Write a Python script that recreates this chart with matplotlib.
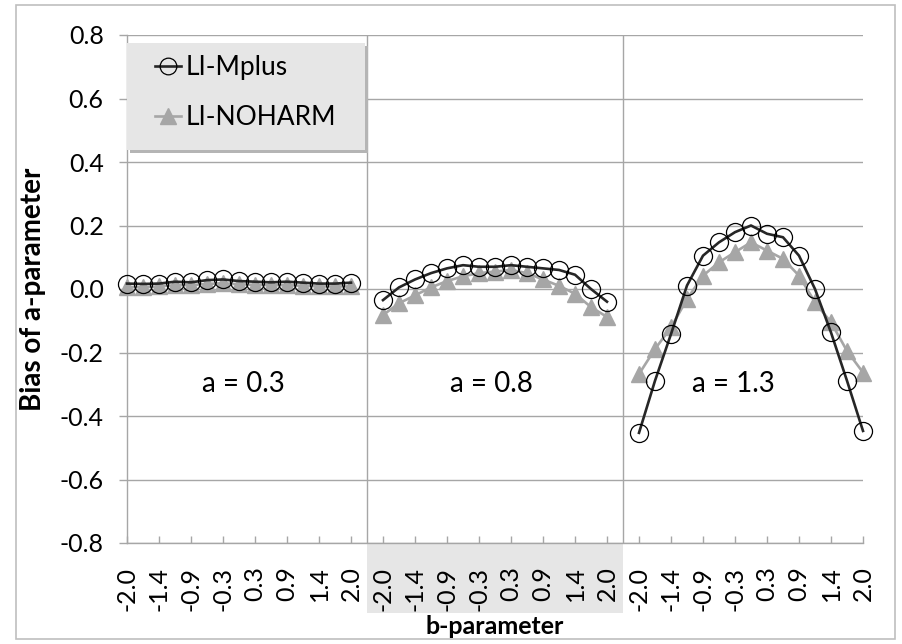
import numpy as np
import matplotlib
matplotlib.use("Agg")
import matplotlib.pyplot as plt
from matplotlib.patches import Rectangle
from matplotlib.lines import Line2D

plt.rcParams['font.family'] = ['Lato', 'DejaVu Sans']

# ---- data ----
b_tick_labels = ["-2.0", "-1.4", "-0.9", "-0.3", "0.3", "0.9", "1.4", "2.0"]
panel_labels = ["a = 0.3", "a = 0.8", "a = 1.3"]

mplus_a03 = [0.017, 0.016, 0.017, 0.023, 0.021, 0.028, 0.030, 0.025, 0.023, 0.021, 0.023, 0.020, 0.017, 0.017, 0.020]
noharm_a03 = [0.006, 0.006, 0.008, 0.012, 0.012, 0.016, 0.018, 0.015, 0.013, 0.012, 0.012, 0.010, 0.008, 0.008, 0.008]

mplus_a08 = [-0.035, 0.005, 0.030, 0.050, 0.065, 0.075, 0.070, 0.070, 0.075, 0.070, 0.065, 0.060, 0.045, 0.000, -0.040]
noharm_a08 = [-0.082, -0.045, -0.020, 0.005, 0.025, 0.040, 0.050, 0.055, 0.060, 0.050, 0.030, 0.010, -0.015, -0.057, -0.088]

mplus_a13 = [-0.453, -0.289, -0.142, 0.011, 0.105, 0.147, 0.179, 0.200, 0.174, 0.163, 0.105, 0.000, -0.137, -0.289, -0.447]
noharm_a13 = [-0.268, -0.189, -0.121, -0.032, 0.042, 0.084, 0.116, 0.147, 0.121, 0.095, 0.042, -0.042, -0.105, -0.195, -0.263]

y_ticks = [-0.8, -0.6, -0.4, -0.2, 0.0, 0.2, 0.4, 0.6, 0.8]


def join_panels(panels):
    out = []
    for i, p in enumerate(panels):
        if i > 0:
            out.append(np.nan)
        out.extend(p)
    return np.array(out, dtype=float)


mplus = join_panels([mplus_a03, mplus_a08, mplus_a13])
noharm = join_panels([noharm_a03, noharm_a08, noharm_a13])
npts = len(mplus_a03)
x = np.arange(len(mplus))

# ---- figure ----
W, H = 902, 644
fig = plt.figure(figsize=(W / 100, H / 100), dpi=100)
ax = fig.add_axes([127 / W, (H - 543) / H, (863 - 127) / W, (543 - 35) / H])

grid_c = '#a6a6a6'
ax.set_xlim(0, len(mplus) - 1)
ax.set_ylim(-0.8, 0.8)

ax.plot(x, noharm, color='#a6a6a6', lw=1.9, marker='^', ms=11,
        mfc='#a6a6a6', mec='#a6a6a6', zorder=3, clip_on=False)
ax.plot(x, mplus, color='#262626', lw=1.9, marker='o', ms=13,
        mfc='none', mec='#000000', mew=0.9, zorder=4, clip_on=False)

# panel separators
for k in range(1, 3):
    ax.axvline(k * (npts + 1) - 1, color=grid_c, lw=1.0, zorder=1)

# ticks
xt, xl = [], []
for k in range(3):
    for j, lab in enumerate(b_tick_labels):
        xt.append(k * (npts + 1) + 2 * j)
        xl.append(lab)
ax.set_xticks(xt)
ax.set_xticklabels(xl, rotation=90)
ax.set_yticks(y_ticks)
ax.set_yticklabels([f"{v:.1f}" for v in y_ticks])
ax.tick_params(axis='x', direction='in', length=5, width=1, color=grid_c, pad=17, labelsize=18)
ax.tick_params(axis='y', direction='out', length=5.8, width=1, color=grid_c, pad=11, labelsize=18)

ax.yaxis.grid(True, color=grid_c, lw=1.0, zorder=0)
ax.set_axisbelow(True)
for s in ['top', 'right']:
    ax.spines[s].set_visible(False)
for s in ['left', 'bottom']:
    ax.spines[s].set_color(grid_c)
    ax.spines[s].set_linewidth(1.0)

# panel annotation
for k, lab in enumerate(panel_labels):
    xpos = [7.25, 22.8, 37.9][k]
    ax.text(xpos, -0.30, lab, fontsize=20, ha='center', va='center')

# highlight behind middle panel tick labels
ax.add_patch(Rectangle((npts, -(613 - 543) / 508), npts + 1, (613 - 543) / 508,
                       transform=ax.get_xaxis_transform(), facecolor='#e6e6e6',
                       edgecolor='none', clip_on=False, zorder=-5))

ax.set_xlabel('b-parameter', fontsize=18, fontweight='bold', labelpad=3)
ax.set_ylabel('Bias of a-parameter', fontsize=20, fontweight='bold', labelpad=10)

# legend box with shadow
lx0, ly0, lx1, ly1 = 127, 43, 365, 150
fig.patches.append(Rectangle(((lx0 + 3) / W, 1 - (ly1 + 3) / H), (lx1 - lx0) / W, (ly1 - ly0) / H,
                             transform=fig.transFigure, facecolor='#b5b5b5', edgecolor='none', zorder=5))
fig.patches.append(Rectangle((lx0 / W, 1 - ly1 / H), (lx1 - lx0) / W, (ly1 - ly0) / H,
                             transform=fig.transFigure, facecolor='#e6e6e6', edgecolor='none', zorder=6))
handles = [Line2D([], [], color='#262626', lw=1.9, marker='o', ms=12, mfc='none', mec='#000000', mew=0.9),
           Line2D([], [], color='#a6a6a6', lw=1.9, marker='^', ms=11, mfc='#a6a6a6', mec='#a6a6a6')]
leg = fig.legend(handles, ['LI-Mplus', 'LI-NOHARM'], loc='upper left',
                 bbox_to_anchor=(155 / W, 1 - 55 / H), frameon=False, fontsize=19,
                 borderpad=0, borderaxespad=0, handlelength=1.0, handletextpad=0.15,
                 labelspacing=0.95)
leg.set_zorder(7)

# outer border
fig.patches.append(Rectangle((16 / W, 5 / H), (895 - 16) / W, (639 - 5) / H,
                             transform=fig.transFigure, fill=False, edgecolor='#bfbfbf', lw=1.2))

fig.savefig('out.png', dpi=100)
